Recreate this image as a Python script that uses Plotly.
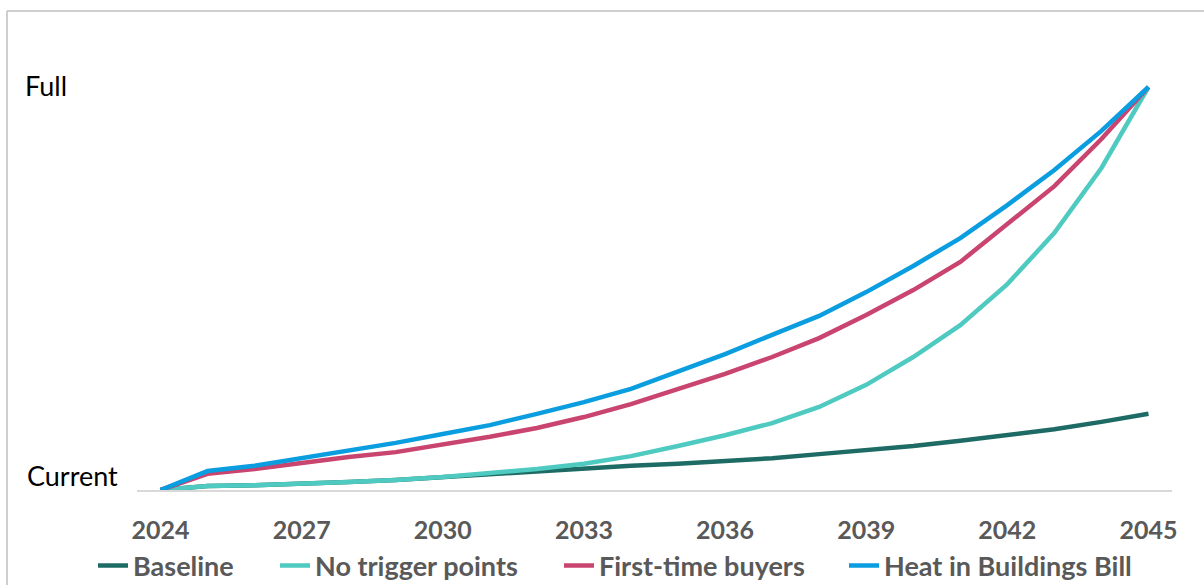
import plotly.graph_objects as go

# Uptake pathway from current level (0) to full (100), by year
years = list(range(2024, 2046))

baseline = [0, 1.0, 1.2, 1.5, 2.0, 2.5, 3.2, 4.0, 4.7, 5.2, 6.0, 6.5,
            7.2, 7.9, 8.9, 9.9, 10.9, 12.2, 13.6, 15.1, 16.9, 18.9]
no_trigger = [0, 1.0, 1.2, 1.5, 2.0, 2.5, 3.2, 4.2, 5.2, 6.5, 8.4, 10.9,
              13.6, 16.6, 20.6, 26.1, 33.0, 40.9, 51.1, 63.8, 79.9, 100]
first_time = [0, 4.0, 5.2, 6.7, 8.2, 9.4, 11.2, 13.2, 15.4, 18.1, 21.3, 25.1,
              28.8, 33.0, 37.7, 43.4, 49.6, 56.6, 66.0, 75.4, 87.1, 100]
heat_bill = [0, 4.7, 6.0, 7.9, 9.7, 11.7, 13.9, 16.1, 18.9, 21.8, 25.1, 29.3,
             33.7, 38.5, 43.2, 49.1, 55.6, 62.5, 70.7, 79.4, 89.1, 100]

series_names = ["Baseline", "No trigger points", "First-time buyers", "Heat in Buildings Bill"]
series_values = [baseline, no_trigger, first_time, heat_bill]
series_colors = ["#1d6b64", "#4ecac1", "#c9446f", "#0a9de0"]
legend_ids = ["legend", "legend2", "legend3", "legend4"]
legend_left_px = [93, 275, 559, 844]

x_tick_years = [2024, 2027, 2030, 2033, 2036, 2039, 2042, 2045]
y_labels = {0: "Current", 100: "Full"}

FONT = "Lato"
GREY = "#595959"

L, R, T, B = 137, 32, 40, 95
W, H = 1204, 585
plot_w = W - L - R
plot_h = H - T - B


def px_x(px):
    return (px - L) / plot_w


def px_y(py):
    return (H - B - py) / plot_h


fig = go.Figure()
for name, vals, col, lg in zip(series_names, series_values, series_colors, legend_ids):
    fig.add_trace(go.Scatter(
        x=years, y=vals, name=name, mode="lines",
        line=dict(color=col, width=4.5, shape="linear"),
        legend=lg,
    ))

legend_font = dict(family=FONT, size=27, color=GREY, weight="bold")
legend_layouts = {}
for lg, left in zip(legend_ids, legend_left_px):
    legend_layouts[lg] = dict(
        orientation="h", x=px_x(left), xanchor="left",
        y=px_y(566), yanchor="middle",
        font=legend_font, itemwidth=30,
        bgcolor="rgba(0,0,0,0)", borderwidth=0,
    )

annotations = [
    dict(x=px_x(23), xref="paper", y=100, yref="y", text=y_labels[100],
         showarrow=False, xanchor="left", yanchor="middle", yshift=2,
         font=dict(family=FONT, size=27, color="#000000")),
    dict(x=px_x(25), xref="paper", y=0, yref="y", text=y_labels[0],
         showarrow=False, xanchor="left", yanchor="middle", yshift=15,
         font=dict(family=FONT, size=27, color="#000000")),
]

shapes = [
    # outer frame (top and left edges visible)
    dict(type="line", xref="paper", yref="paper",
         x0=px_x(7), x1=px_x(1260), y0=px_y(11), y1=px_y(11),
         line=dict(color="#bfbfbf", width=1.5)),
    dict(type="line", xref="paper", yref="paper",
         x0=px_x(7), x1=px_x(7), y0=px_y(11), y1=px_y(640),
         line=dict(color="#bfbfbf", width=1.5)),
]

fig.update_layout(
    width=W, height=H,
    margin=dict(l=L, r=R, t=T, b=B, autoexpand=False),
    paper_bgcolor="white", plot_bgcolor="white",
    showlegend=True,
    xaxis=dict(
        range=[2023.5, 2045.5], tickvals=x_tick_years,
        ticktext=[str(y) for y in x_tick_years],
        showgrid=False, zeroline=False,
        showline=True, linecolor="#d9d9d9", linewidth=1.5,
        ticks="", ticklabelstandoff=17,
        tickfont=dict(family=FONT, size=25, color=GREY, weight="bold"),
        fixedrange=True,
    ),
    yaxis=dict(
        range=[0, (H - B - T) / 4.03], showgrid=False, zeroline=False,
        showticklabels=False, showline=False, fixedrange=True,
    ),
    annotations=annotations,
    shapes=shapes,
    **legend_layouts,
)

fig.write_html("out.html")
